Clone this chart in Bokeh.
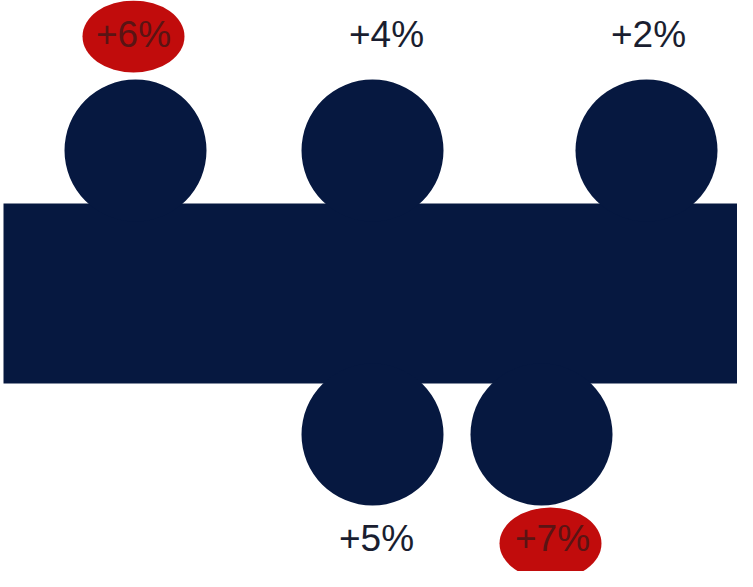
from bokeh.plotting import figure
from bokeh.models import Range1d
from bokeh.embed import file_html
from bokeh.resources import INLINE
from bokeh.core.properties import value

# Data (in reference-image pixel coordinates)
top_x = [143, 380, 654]
top_label_x = [141, 394, 656]
top_labels = ["+6%", "+4%", "+2%"]
top_highlight = [True, False, False]
bottom_x = [380, 549]
bottom_label_x = [384, 560]
bottom_labels = ["+5%", "+7%"]
bottom_highlight = [False, True]

band_left, band_right, band_top, band_bottom = 11, 760, 211, 391
top_cy, bottom_cy, radius = 158, 442, 71
top_text_y, bottom_text_y = 42, 546
top_ellipse_y, bottom_ellipse_y = 44, 551

NAVY = "#061840"
RED = "#c10c0c"

p = figure(width=737, height=571, output_backend="svg", toolbar_location=None,
           x_range=Range1d(8, 745), y_range=Range1d(579, 8),
           min_border=0, outline_line_color=None, background_fill_color="white")
p.axis.visible = False
p.grid.visible = False

p.quad(left=[band_left], right=[band_right], top=[band_top], bottom=[band_bottom],
       fill_color=NAVY, line_color=None)
p.circle(x=top_x, y=[top_cy] * len(top_x), radius=radius, fill_color=NAVY, line_color=None)
p.circle(x=bottom_x, y=[bottom_cy] * len(bottom_x), radius=radius, fill_color=NAVY, line_color=None)

# highlight ellipses
hx, hy = [], []
for x, h in zip(top_label_x, top_highlight):
    if h:
        hx.append(x); hy.append(top_ellipse_y)
for x, h in zip(bottom_label_x, bottom_highlight):
    if h:
        hx.append(x - 2); hy.append(bottom_ellipse_y)
p.ellipse(x=hx, y=hy, width=102, height=72, fill_color=RED, line_color=None)

def label_colors(flags):
    return ["#5a1414" if f else "#1a1e30" for f in flags]

p.text(x=top_label_x, y=[top_text_y] * len(top_x), text=top_labels,
       text_color=label_colors(top_highlight), text_align="center", text_baseline="middle",
       text_font=value("Liberation Sans"), text_font_size="37px")
p.text(x=bottom_label_x, y=[bottom_text_y] * len(bottom_x), text=bottom_labels,
       text_color=label_colors(bottom_highlight), text_align="center", text_baseline="middle",
       text_font=value("Liberation Sans"), text_font_size="37px")

open("out.html", "w").write(file_html(p, INLINE))
